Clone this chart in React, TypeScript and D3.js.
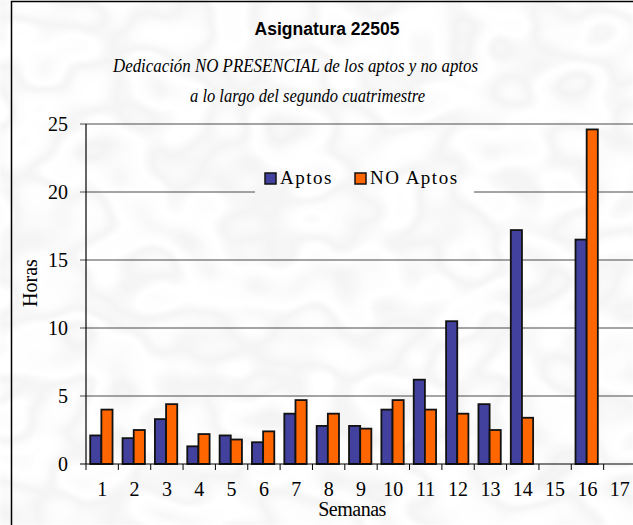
import { useEffect, useRef } from "react";
import * as d3 from "d3";

// weeks of the second term
const weeks = ["1", "2", "3", "4", "5", "6", "7", "8", "9", "10", "11", "12", "13", "14", "15", "16", "17"];
// hours per week (null = no bar)
const aptos = [2.1, 1.9, 3.3, 1.3, 2.1, 1.6, 3.7, 2.8, 2.8, 4.0, 6.2, 10.5, 4.4, 17.2, null, 16.5, null];
const noAptos = [4.0, 2.5, 4.4, 2.2, 1.8, 2.4, 4.7, 3.7, 2.6, 4.7, 4.0, 3.7, 2.5, 3.4, null, 24.6, null];
const seriesNames = ["Aptos", "NO Aptos"];
const seriesColors = ["#42429e", "#ff6600"];
const yTicks = [0, 5, 10, 15, 20, 25];

export default function App() {
	const ref = useRef<SVGSVGElement>(null);

	useEffect(() => {
		const svg = d3.select(ref.current);
		svg.selectAll("*").remove();

		const W = 633, H = 525;
		const margin = { top: 124, left: 86, bottom: 61, right: -3 };
		const width = W - margin.left - margin.right;
		const height = H - margin.top - margin.bottom;
		const serif = "'Liberation Serif', 'Times New Roman', serif";

		// background with a soft swirl watermark (noise in page space)
		const defs = svg.append("defs");
		const f = defs.append("filter").attr("id", "swirl")
			.attr("filterUnits", "userSpaceOnUse")
			.attr("x", 0).attr("y", 0).attr("width", W).attr("height", H);
		f.append("feTurbulence")
			.attr("type", "fractalNoise")
			.attr("baseFrequency", "0.012 0.016")
			.attr("numOctaves", 2)
			.attr("seed", 7);
		f.append("feColorMatrix")
			.attr("type", "matrix")
			.attr("values", "0 0 0 0 0.8  0 0 0 0 0.8  0 0 0 0 0.8  1 0 0 0 0");
		const ct = f.append("feComponentTransfer");
		ct.append("feFuncA").attr("type", "table")
			.attr("tableValues", "0 0 0.1 0.5 0.1 0 0.45 0.1 0 0.4 0 0");
		f.append("feGaussianBlur").attr("stdDeviation", 1);

		defs.append("clipPath").attr("id", "legend-clip")
			.append("rect").attr("x", 255).attr("y", 168).attr("width", 219).attr("height", 40);

		svg.append("rect").attr("width", W).attr("height", H).attr("fill", "#fff");
		svg.append("rect").attr("width", W).attr("height", H).attr("filter", "url(#swirl)");

		// frame
		svg.append("rect")
			.attr("x", 11.5).attr("y", 1.5)
			.attr("width", 700).attr("height", 600)
			.attr("fill", "none").attr("stroke", "#000").attr("stroke-width", 1.5);

		// titles
		svg.append("text")
			.attr("x", 327).attr("y", 35)
			.attr("text-anchor", "middle")
			.attr("font-family", "'Liberation Sans', Arial, sans-serif")
			.attr("font-weight", "bold")
			.attr("font-size", 17.5)
			.text("Asignatura 22505");

		svg.append("text")
			.attr("x", 113).attr("y", 72)
			.attr("font-family", serif)
			.attr("font-style", "italic")
			.attr("font-size", 18)
			.attr("textLength", 365)
			.attr("lengthAdjust", "spacingAndGlyphs")
			.text("Dedicación NO PRESENCIAL de los aptos y no aptos");

		svg.append("text")
			.attr("x", 190).attr("y", 102)
			.attr("font-family", serif)
			.attr("font-style", "italic")
			.attr("font-size", 18)
			.attr("textLength", 235)
			.attr("lengthAdjust", "spacingAndGlyphs")
			.text("a lo largo del segundo cuatrimestre");

		const g = svg.append("g").attr("transform", `translate(${margin.left},${margin.top})`);

		const x0 = d3.scaleBand().domain(weeks).range([0, width]).padding(0);
		const bw = x0.bandwidth();
		const x1 = d3.scaleBand().domain(seriesNames).range([bw * 0.13, bw * 0.82]).padding(0);
		const y = d3.scaleLinear().domain([0, 25]).range([height, 0]);

		// gridlines
		g.selectAll(".grid")
			.data(yTicks.slice(1))
			.enter()
			.append("line")
			.attr("x1", -6).attr("x2", width)
			.attr("y1", d => y(d)).attr("y2", d => y(d))
			.attr("stroke", "#4a4a4a").attr("stroke-width", 1);

		// y axis
		g.append("line")
			.attr("x1", 0).attr("x2", 0).attr("y1", 0).attr("y2", height)
			.attr("stroke", "#000").attr("stroke-width", 1.2);
		g.append("line")
			.attr("x1", -6).attr("x2", 0).attr("y1", height).attr("y2", height)
			.attr("stroke", "#000");
		g.selectAll(".ylab")
			.data(yTicks)
			.enter()
			.append("text")
			.attr("x", -18).attr("y", d => y(d) + 7)
			.attr("text-anchor", "end")
			.attr("font-family", serif)
			.attr("font-size", 20)
			.text(d => d);

		// bars
		const seriesData = [aptos, noAptos];
		seriesNames.forEach((name, si) => {
			g.selectAll(`.bar-${si}`)
				.data(weeks.map((w, i) => ({ w, v: seriesData[si][i] })).filter(d => d.v != null))
				.enter()
				.append("rect")
				.attr("x", d => x0(d.w)! + x1(name)!)
				.attr("y", d => y(d.v!))
				.attr("width", x1.bandwidth())
				.attr("height", d => height - y(d.v!))
				.attr("fill", seriesColors[si])
				.attr("stroke", "#111")
				.attr("stroke-width", 1.8);
		});

		// x axis
		g.append("line")
			.attr("x1", 0).attr("x2", width).attr("y1", height).attr("y2", height)
			.attr("stroke", "#000").attr("stroke-width", 1.2);
		g.selectAll(".xtick")
			.data(d3.range(weeks.length + 1))
			.enter()
			.append("line")
			.attr("x1", i => i * bw).attr("x2", i => i * bw)
			.attr("y1", height).attr("y2", height + 6)
			.attr("stroke", "#000");
		g.selectAll(".xlab")
			.data(weeks)
			.enter()
			.append("text")
			.attr("x", d => x0(d)! + bw / 2)
			.attr("y", height + 32)
			.attr("text-anchor", "middle")
			.attr("font-family", serif)
			.attr("font-size", 20)
			.text(d => d);

		// axis titles
		svg.append("text")
			.attr("x", 352).attr("y", 516)
			.attr("text-anchor", "middle")
			.attr("font-family", serif)
			.attr("font-size", 20)
			.attr("letter-spacing", -0.5)
			.text("Semanas");
		svg.append("text")
			.attr("transform", "translate(37,283) rotate(-90)")
			.attr("text-anchor", "middle")
			.attr("font-family", serif)
			.attr("font-size", 20)
			.text("Horas");

		// legend (its background hides the 20 gridline)
		const lgBg = svg.append("g").attr("clip-path", "url(#legend-clip)");
		lgBg.append("rect").attr("width", W).attr("height", H).attr("fill", "#fff");
		lgBg.append("rect").attr("width", W).attr("height", H).attr("filter", "url(#swirl)");

		const lg = svg.append("g").attr("transform", "translate(255,168)");
		const items = [
			{ name: seriesNames[0], color: seriesColors[0], x: 10 },
			{ name: seriesNames[1], color: seriesColors[1], x: 100 },
		];
		items.forEach(it => {
			lg.append("rect")
				.attr("x", it.x).attr("y", 5)
				.attr("width", 11).attr("height", 11)
				.attr("fill", it.color)
				.attr("stroke", "#111").attr("stroke-width", 1.5);
			lg.append("text")
				.attr("x", it.x + 15).attr("y", 16)
				.attr("font-family", serif)
				.attr("font-size", 19)
				.attr("letter-spacing", 1.5)
				.text(it.name);
		});
	}, []);

	return (
		<svg
			ref={ref}
			width={633}
			height={525}
			style={{ position: "absolute", left: 0, top: 0, display: "block" }}
		/>
	);
}
